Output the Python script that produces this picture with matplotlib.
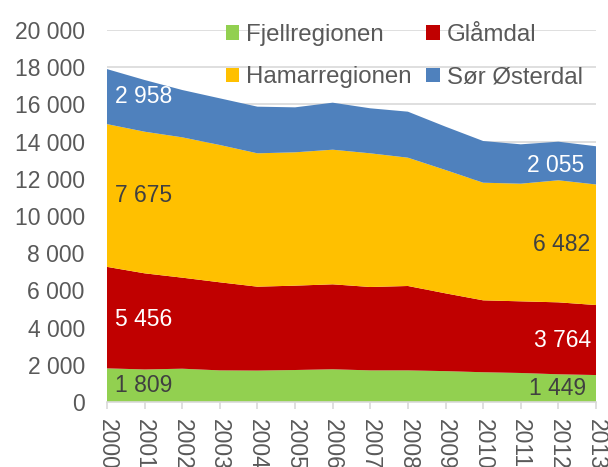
import numpy as np
import matplotlib
matplotlib.use('Agg')
import matplotlib.pyplot as plt

plt.rcParams['font.family'] = ['Liberation Sans', 'DejaVu Sans']

years = list(range(2000, 2014))
series = ['Fjellregionen', 'Glåmdal', 'Hamarregionen', 'Sør Østerdal']
fjell = [1809, 1750, 1790, 1700, 1690, 1720, 1760, 1700, 1700, 1660, 1600, 1560, 1490, 1449]
glamdal = [5456, 5168, 4895, 4735, 4510, 4535, 4567, 4483, 4537, 4182, 3866, 3852, 3868, 3764]
hamar = [7675, 7614, 7545, 7382, 7170, 7169, 7238, 7187, 6898, 6631, 6324, 6325, 6562, 6482]
sor = [2958, 2780, 2544, 2509, 2508, 2418, 2528, 2420, 2474, 2330, 2242, 2117, 2076, 2055]
colors = ['#92D050', '#C00000', '#FFC000', '#4F81BD']
label_colors = ['#404040', 'white', '#404040', 'white']

txt = '#595959'
fs = 16.5

fig = plt.figure(figsize=(6.08, 4.67), dpi=100)
ax = fig.add_axes([107/608, 1-402/467, (596-107)/608, (402-30)/467])

data = np.array([fjell, glamdal, hamar, sor])
polys = ax.stackplot(years, data, colors=colors, labels=series, zorder=2)

ax.set_xlim(2000, 2013)
ax.set_ylim(0, 20000)
ax.set_yticks(range(0, 20001, 2000))
ax.set_yticklabels([f'{v:,}'.replace(',', ' ') for v in range(0, 20001, 2000)])
ax.set_xticks(years)
ax.set_xticklabels([str(y) for y in years], rotation=-90, va='top', ha='center')
ax.grid(axis='y', color='#D9D9D9', lw=1.2, zorder=0)
ax.set_axisbelow(True)
for s in ['top', 'right', 'left']:
    ax.spines[s].set_visible(False)
ax.spines['bottom'].set_color('#D9D9D9')
ax.spines['bottom'].set_linewidth(1.2)
ax.spines['bottom'].set_zorder(3)
ax.tick_params(axis='y', length=0, pad=16, labelsize=fs, labelcolor=txt)
ax.tick_params(axis='x', length=5, width=1.2, color='#D9D9D9', pad=7, labelsize=fs, labelcolor=txt)

# data labels, first and last year
cum = np.cumsum(data, axis=0)
mid = cum - data / 2
mid[1, 0] = 4460  # Glåmdal label sits a bit higher in the original
for i in range(4):
    ax.text(2000.2, mid[i, 0], f'{data[i, 0]:,}'.replace(',', ' '), color=label_colors[i],
            fontsize=fs, ha='left', va='center', zorder=4)
right_x = [2012.75, 2012.88, 2012.85, 2012.7]
for i in range(4):
    ax.text(right_x[i], mid[i, -1], f'{data[i, -1]:,}'.replace(',', ' '), color=label_colors[i],
            fontsize=fs, ha='right', va='center', zorder=4)

# legend filled row-wise like Excel
order = [0, 2, 1, 3]
leg = ax.legend([polys[i] for i in order], [series[i] for i in order],
                loc='upper left', bbox_to_anchor=(226/608, 1-24/467), bbox_transform=fig.transFigure,
                ncol=2, frameon=False, fontsize=17.3, labelcolor=txt, handlelength=0.55, handleheight=0.55,
                handletextpad=0.3, columnspacing=0.6, labelspacing=0.85, borderpad=0, borderaxespad=0)

fig.savefig('out.png', dpi=100)
